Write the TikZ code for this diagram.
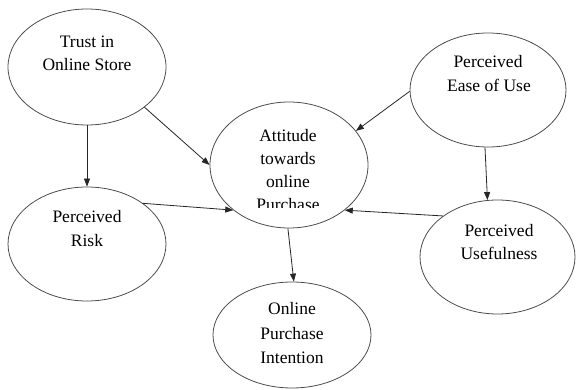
\documentclass[tikz,border=0pt]{standalone}
\usepackage{fontspec}
\setmainfont{Liberation Serif}
\usetikzlibrary{shapes.geometric,arrows.meta}
\begin{document}
\begin{tikzpicture}[x=1pt,y=-1pt,
  oval/.style={ellipse,draw=black!70,line width=0.8pt,inner sep=0pt},
  lbl/.style={anchor=base,inner sep=0pt,font=\fontsize{17.5}{21}\selectfont},
  link/.style={draw=black!85,line width=0.8pt,-{Triangle[length=8pt,width=6pt]}}]
\useasboundingbox (0,0) rectangle (576,390);
% ellipses
\node[oval,minimum width=158pt,minimum height=116pt] (trust) at (87,67) {};
\node[oval,minimum width=156pt,minimum height=114pt] (ease) at (488,90) {};
\node[oval,minimum width=158pt,minimum height=126pt] (att) at (289,165) {};
\node[oval,minimum width=158pt,minimum height=114pt] (risk) at (87,244) {};
\node[oval,minimum width=155pt,minimum height=114pt] (use) at (497.5,257) {};
\node[oval,minimum width=158pt,minimum height=106pt] (int) at (292,335) {};
% texts
\node[lbl] (t1) at (87,48) {Trust in};
\node[lbl] (t2) at (87,71) {Online Store};
\node[lbl] (e1) at (488,68) {Perceived};
\node[lbl] (e2) at (489,92) {Ease of Use};
\node[lbl] (a1) at (288,142) {Attitude};
\node[lbl] (a2) at (288,165) {towards};
\node[lbl] (a3) at (288,188) {online};
\begin{scope}
\clip (200,195) rectangle (380,208);
\node[lbl] (a4) at (288,211) {Purchase};
\end{scope}
\node[lbl] (r1) at (87,223) {Perceived};
\node[lbl] (r2) at (87,247) {Risk};
\node[lbl] (u1) at (499,237) {Perceived};
\node[lbl] (u2) at (499,260) {Usefulness};
\node[lbl] (i1) at (292,315) {Online};
\node[lbl] (i2) at (292,339) {Purchase};
\node[lbl] (i3) at (292,363) {Intention};
% connectors
\draw[link] (trust.south) -- (risk.north);
\draw[link] (trust.-35) -- (att.180);
\draw[link] (ease.181) -- (att.27);
\draw[link] (ease.-93) -- (use.100);
\draw[link] (risk.36) -- (att.219);
\draw[link] (use.143) -- (att.-39);
\draw[link] (att.-91) -- (int.88);
\end{tikzpicture}
\end{document}
